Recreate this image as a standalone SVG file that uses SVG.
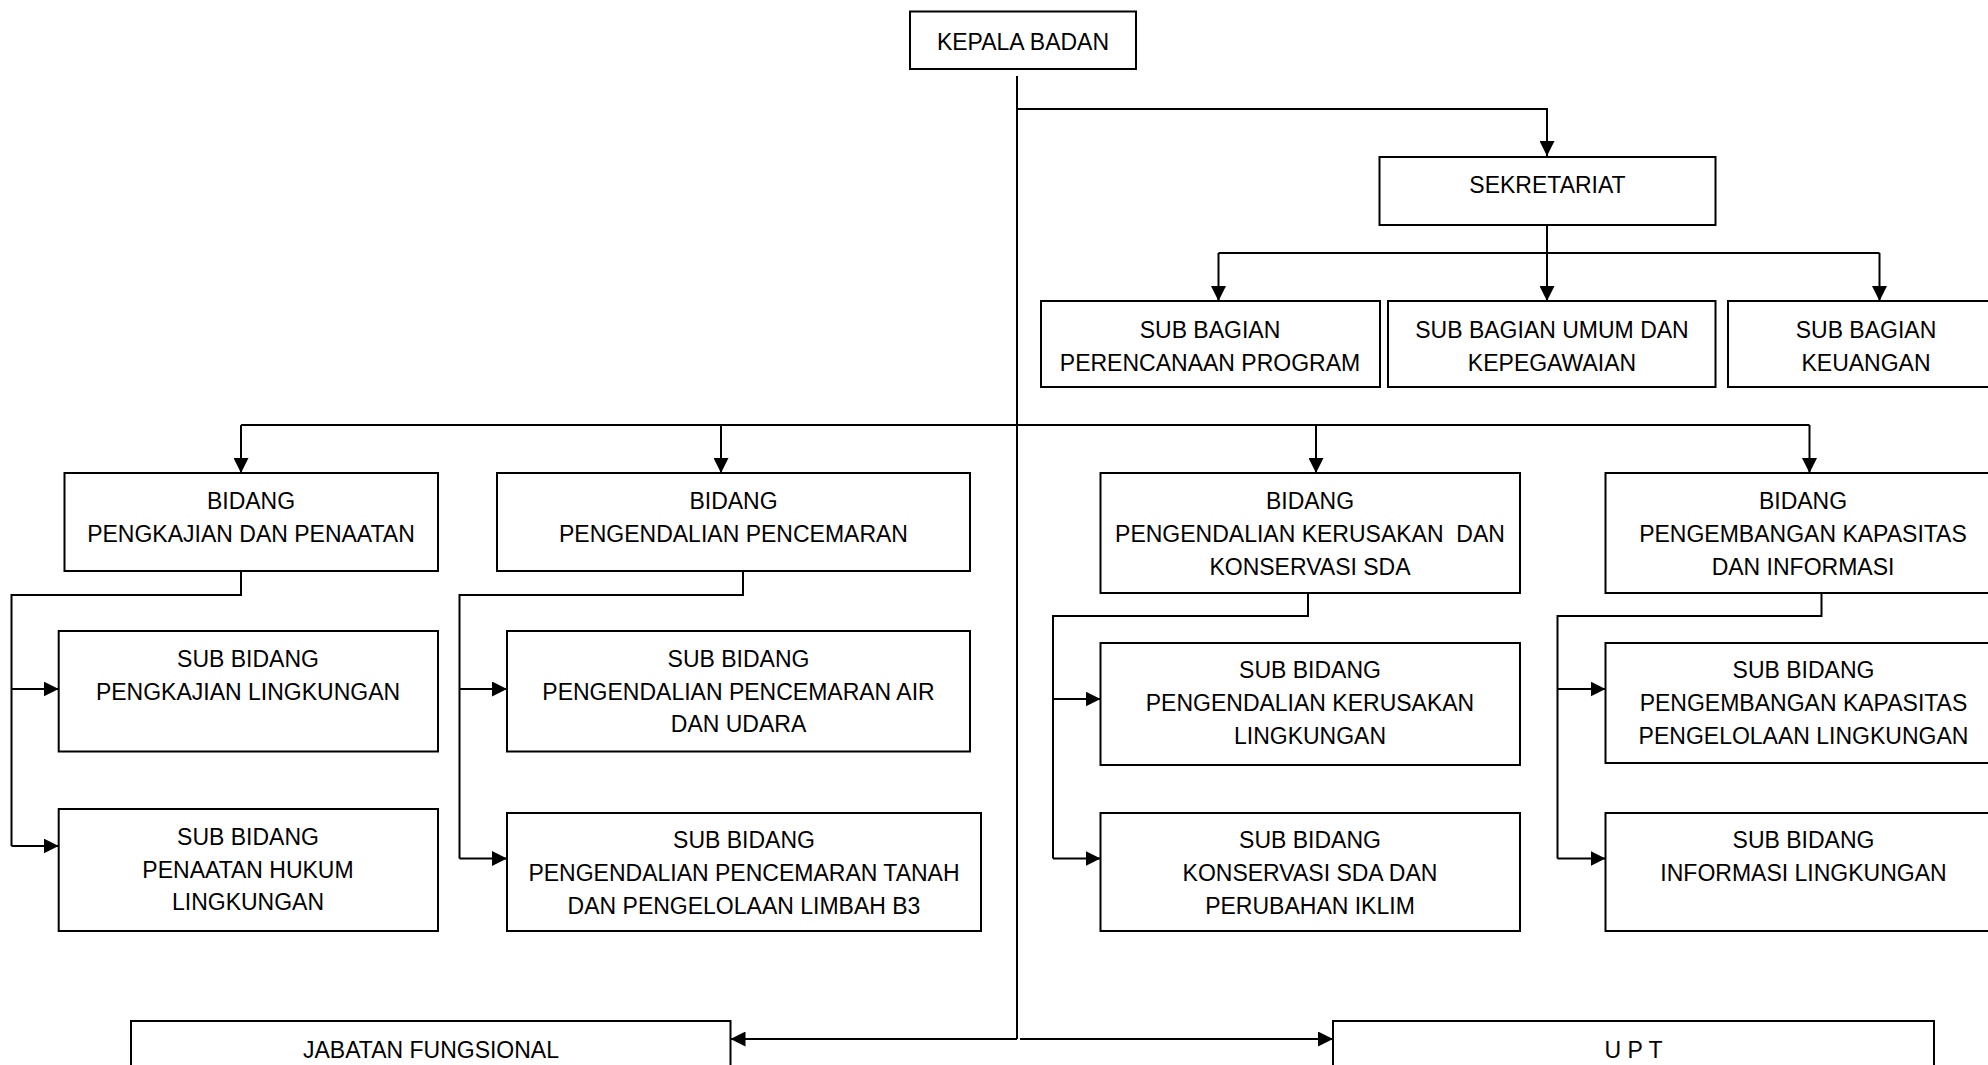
<svg xmlns="http://www.w3.org/2000/svg" width="1988" height="1065" viewBox="0 0 1988 1065">
<style>
.box{fill:#fff;stroke:#000;stroke-width:2}
.t{font-family:"Liberation Sans",Arial,sans-serif;font-size:23px;fill:#000;text-anchor:middle}
.c{fill:none;stroke:#000;stroke-width:2}
</style>
<defs>
<marker id="ah" viewBox="0 0 15 15" refX="15" refY="7.5" markerWidth="15" markerHeight="15" markerUnits="userSpaceOnUse" orient="auto">
<path d="M0,0 L15,7.5 L0,15 Z" fill="#000"/>
</marker>
</defs>
<rect width="1988" height="1065" fill="#fff"/>

<g id="connectors">
<path class="c" d="M1017,76 V1039"/>
<path class="c" d="M1017,109 H1547 V156" marker-end="url(#ah)"/>
<path class="c" d="M1547,225 V301" marker-end="url(#ah)"/>
<path class="c" d="M1218.5,253 H1879.5"/>
<path class="c" d="M1218.5,253 V301" marker-end="url(#ah)"/>
<path class="c" d="M1879.5,253 V301" marker-end="url(#ah)"/>
<path class="c" d="M241,425 H1809.5"/>
<path class="c" d="M241,425 V473" marker-end="url(#ah)"/>
<path class="c" d="M721,425 V473" marker-end="url(#ah)"/>
<path class="c" d="M1316,425 V473" marker-end="url(#ah)"/>
<path class="c" d="M1809.5,425 V473" marker-end="url(#ah)"/>
<path class="c" d="M241,571 V595 H11.5 V846"/>
<path class="c" d="M11.5,689 H58.7" marker-end="url(#ah)"/>
<path class="c" d="M11.5,846 H58.7" marker-end="url(#ah)"/>
<path class="c" d="M743,571 V595 H459.5 V858.5"/>
<path class="c" d="M459.5,689 H507" marker-end="url(#ah)"/>
<path class="c" d="M459.5,858.5 H507" marker-end="url(#ah)"/>
<path class="c" d="M1308,593 V616 H1053 V858.5"/>
<path class="c" d="M1053,699 H1100.5" marker-end="url(#ah)"/>
<path class="c" d="M1053,858.5 H1100.5" marker-end="url(#ah)"/>
<path class="c" d="M1821.5,593 V616 H1557.5 V858.5"/>
<path class="c" d="M1557.5,689 H1605.5" marker-end="url(#ah)"/>
<path class="c" d="M1557.5,858.5 H1605.5" marker-end="url(#ah)"/>
<path class="c" d="M1017,1039 H730.5" marker-end="url(#ah)"/>
<path class="c" d="M1020,1039 H1333" marker-end="url(#ah)"/>
</g>

<g id="kepala-badan">
<rect class="box" x="910" y="11.5" width="226" height="57.5"/>
<text class="t" x="1023" y="50">KEPALA BADAN</text>
</g>
<g id="sekretariat">
<rect class="box" x="1379.5" y="157" width="336" height="68"/>
<text class="t" x="1547.5" y="193">SEKRETARIAT</text>
</g>
<g id="sub-bagian-perencanaan">
<rect class="box" x="1041" y="301" width="339" height="86"/>
<text class="t" x="1210" y="337.5">SUB BAGIAN</text>
<text class="t" x="1210" y="370.5">PERENCANAAN PROGRAM</text>
</g>
<g id="sub-bagian-umum">
<rect class="box" x="1388" y="301" width="327.5" height="86"/>
<text class="t" x="1552" y="337.5">SUB BAGIAN UMUM DAN</text>
<text class="t" x="1552" y="370.5">KEPEGAWAIAN</text>
</g>
<g id="sub-bagian-keuangan">
<rect class="box" x="1728" y="301" width="276" height="86"/>
<text class="t" x="1866" y="337.5">SUB BAGIAN</text>
<text class="t" x="1866" y="370.5">KEUANGAN</text>
</g>

<g id="bidang-pengkajian">
<rect class="box" x="64.5" y="473" width="373.5" height="98"/>
<text class="t" x="251" y="509">BIDANG</text>
<text class="t" x="251" y="542">PENGKAJIAN DAN PENAATAN</text>
</g>
<g id="bidang-pengendalian">
<rect class="box" x="497" y="473" width="473" height="98"/>
<text class="t" x="733.5" y="509">BIDANG</text>
<text class="t" x="733.5" y="542">PENGENDALIAN PENCEMARAN</text>
</g>
<g id="bidang-kerusakan">
<rect class="box" x="1100.5" y="473" width="419.5" height="120"/>
<text class="t" x="1310" y="509">BIDANG</text>
<text class="t" x="1310" y="542" xml:space="preserve">PENGENDALIAN KERUSAKAN  DAN</text>
<text class="t" x="1310" y="575">KONSERVASI SDA</text>
</g>
<g id="bidang-kapasitas">
<rect class="box" x="1605.5" y="473" width="396" height="120"/>
<text class="t" x="1803" y="509">BIDANG</text>
<text class="t" x="1803" y="542">PENGEMBANGAN KAPASITAS</text>
<text class="t" x="1803" y="575">DAN INFORMASI</text>
</g>

<g id="sub-bidang-pengkajian-lingkungan">
<rect class="box" x="58.7" y="631" width="379.3" height="120.5"/>
<text class="t" x="248" y="667">SUB BIDANG</text>
<text class="t" x="248" y="700">PENGKAJIAN LINGKUNGAN</text>
</g>
<g id="sub-bidang-penaatan-hukum">
<rect class="box" x="58.7" y="809" width="379.3" height="122"/>
<text class="t" x="248" y="845">SUB BIDANG</text>
<text class="t" x="248" y="878">PENAATAN HUKUM</text>
<text class="t" x="248" y="910">LINGKUNGAN</text>
</g>
<g id="sub-bidang-air-udara">
<rect class="box" x="507" y="631" width="463" height="120.5"/>
<text class="t" x="738.5" y="667">SUB BIDANG</text>
<text class="t" x="738.5" y="700">PENGENDALIAN PENCEMARAN AIR</text>
<text class="t" x="738.5" y="732">DAN UDARA</text>
</g>
<g id="sub-bidang-tanah-b3">
<rect class="box" x="507" y="813" width="474" height="118"/>
<text class="t" x="744" y="848">SUB BIDANG</text>
<text class="t" x="744" y="881">PENGENDALIAN PENCEMARAN TANAH</text>
<text class="t" x="744" y="914">DAN PENGELOLAAN LIMBAH B3</text>
</g>
<g id="sub-bidang-kerusakan">
<rect class="box" x="1100.5" y="643" width="419.5" height="122"/>
<text class="t" x="1310" y="678">SUB BIDANG</text>
<text class="t" x="1310" y="711">PENGENDALIAN KERUSAKAN</text>
<text class="t" x="1310" y="744">LINGKUNGAN</text>
</g>
<g id="sub-bidang-konservasi">
<rect class="box" x="1100.5" y="813" width="419.5" height="118"/>
<text class="t" x="1310" y="848">SUB BIDANG</text>
<text class="t" x="1310" y="881">KONSERVASI SDA DAN</text>
<text class="t" x="1310" y="914">PERUBAHAN IKLIM</text>
</g>
<g id="sub-bidang-kapasitas">
<rect class="box" x="1605.5" y="643" width="396" height="120"/>
<text class="t" x="1803.5" y="678">SUB BIDANG</text>
<text class="t" x="1803.5" y="711">PENGEMBANGAN KAPASITAS</text>
<text class="t" x="1803.5" y="744">PENGELOLAAN LINGKUNGAN</text>
</g>
<g id="sub-bidang-informasi">
<rect class="box" x="1605.5" y="813" width="396" height="118"/>
<text class="t" x="1803.5" y="848">SUB BIDANG</text>
<text class="t" x="1803.5" y="881">INFORMASI LINGKUNGAN</text>
</g>

<g id="jabatan-fungsional">
<rect class="box" x="131" y="1021" width="599.5" height="80"/>
<text class="t" x="431" y="1058">JABATAN FUNGSIONAL</text>
</g>
<g id="upt">
<rect class="box" x="1333" y="1021" width="601" height="80"/>
<text class="t" x="1633.5" y="1058">U P T</text>
</g>
</svg>
